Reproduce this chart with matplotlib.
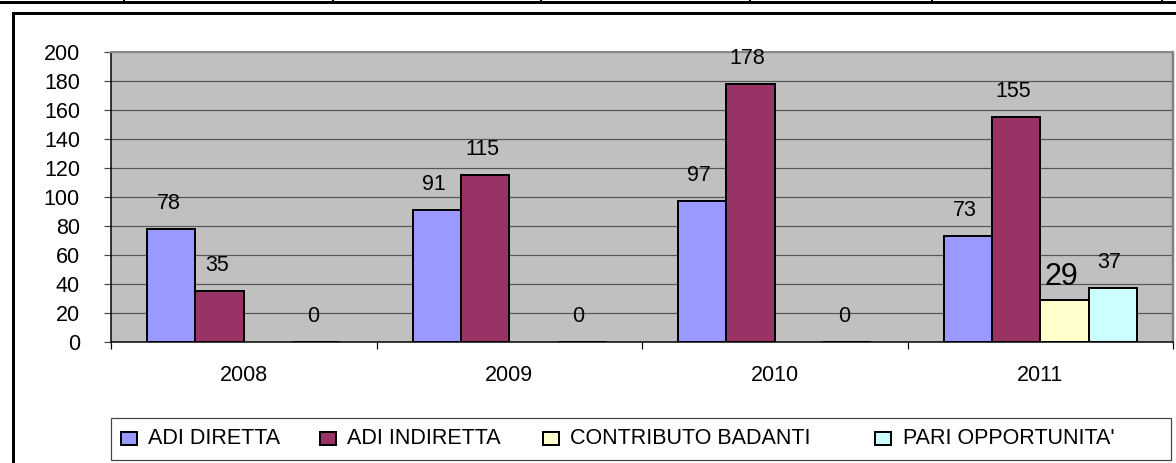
import numpy as np
import matplotlib
matplotlib.use("Agg")
import matplotlib.pyplot as plt
from matplotlib.patches import Rectangle
from matplotlib.lines import Line2D

plt.rcParams['font.family'] = ['Liberation Sans', 'DejaVu Sans']

years = ['2008', '2009', '2010', '2011']
series_names = ['ADI DIRETTA', 'ADI INDIRETTA', 'CONTRIBUTO BADANTI', "PARI OPPORTUNITA'"]
adi_diretta = [78, 91, 97, 73]
adi_indiretta = [35, 115, 178, 155]
contributo_badanti = [np.nan, np.nan, np.nan, 29]
pari_opportunita = [0, 0, 0, 37]
y_ticks = list(range(0, 201, 20))

series_values = [adi_diretta, adi_indiretta, contributo_badanti, pari_opportunita]
colors = ['#9999FF', '#993366', '#FFFFCC', '#CCFFFF']
label_sizes = [15.5, 15.5, 22, 15.5]
label_gaps = [20, 20, 15, 20]  # px between bar top and label baseline

W, H, DPI = 1176, 463, 100
fig = plt.figure(figsize=(W / DPI, H / DPI), dpi=DPI, facecolor='white')
PT = 72 / DPI  # points per pixel
FS = 15.5


def fx(px):
    return px / W


def fy(py):
    return (H - py) / H


# table rule across the top of the page
fig.add_artist(Line2D([0, 1], [fy(2), fy(2)], transform=fig.transFigure,
                      color='black', lw=3 * PT))
for xv in [124, 333, 541, 750, 932, 1162]:
    fig.add_artist(Line2D([fx(xv), fx(xv)], [fy(0), fy(3)], transform=fig.transFigure,
                          color='black', lw=2 * PT))

# chart frame (left and top edges)
fig.add_artist(Line2D([fx(13), fx(13), 1], [0, fy(13), fy(13)], transform=fig.transFigure,
                      color='black', lw=3 * PT, solid_joinstyle='miter'))

ax = fig.add_axes([fx(111), fy(342), fx(1173) - fx(111), fy(52) - fy(342)])
ax.set_facecolor('#C0C0C0')

x = np.arange(len(years))
n = len(series_values)
bw = 1 / (n + 1.5)
for i, (vals, col) in enumerate(zip(series_values, colors)):
    xs = x + (i - (n - 1) / 2) * bw
    ax.bar(xs, vals, width=bw, color=col, edgecolor='black', linewidth=2 * PT, zorder=3)
    for xi, v in zip(xs, vals):
        if np.isfinite(v):
            ax.annotate(f'{v:g}', (xi, v), xytext=(-3 * PT, label_gaps[i] * PT),
                        textcoords='offset points', ha='center', va='baseline',
                        fontsize=label_sizes[i], color='black', zorder=4)

ax.set_xlim(-0.5, len(years) - 0.5)
ax.set_ylim(0, 200)
ax.set_yticks(y_ticks)
ax.set_yticklabels([str(t) for t in y_ticks])
ax.yaxis.grid(True, color='#555555', lw=1.2 * PT, zorder=1)
ax.set_axisbelow(True)

ax.set_xticks(x)
ax.set_xticklabels(years)
ax.set_xticks(np.arange(len(years) + 1) - 0.5, minor=True)
ax.tick_params(axis='x', which='major', length=0, pad=23 * PT, labelsize=FS)
ax.tick_params(axis='x', which='minor', length=7 * PT, width=1.2 * PT, color='black', direction='out')
ax.tick_params(axis='y', length=7 * PT, width=1.2 * PT, color='#444444', pad=24 * PT, labelsize=FS)

for side, col, lw in [('left', 'black', 1.5), ('bottom', 'black', 1.5),
                      ('top', '#8a8a8a', 2), ('right', '#808080', 2.5)]:
    ax.spines[side].set_color(col)
    ax.spines[side].set_linewidth(lw * PT)

# legend box along the bottom
fig.add_artist(Rectangle((fx(111), fy(460)), fx(1171) - fx(111), fy(418) - fy(460),
                         transform=fig.transFigure, facecolor='white',
                         edgecolor='#444444', lw=1.2 * PT))
marker_x = [121, 320, 543, 875]
text_x = [148, 347, 570, 903]
for name, col, mx, tx in zip(series_names, colors, marker_x, text_x):
    fig.add_artist(Rectangle((fx(mx), fy(445)), fx(16), fy(432) - fy(445),
                             transform=fig.transFigure, facecolor=col,
                             edgecolor='black', lw=2 * PT))
    fig.text(fx(tx), fy(438), name, ha='left', va='center', fontsize=FS, color='black')

fig.savefig('out.png', dpi=DPI, facecolor='white')
